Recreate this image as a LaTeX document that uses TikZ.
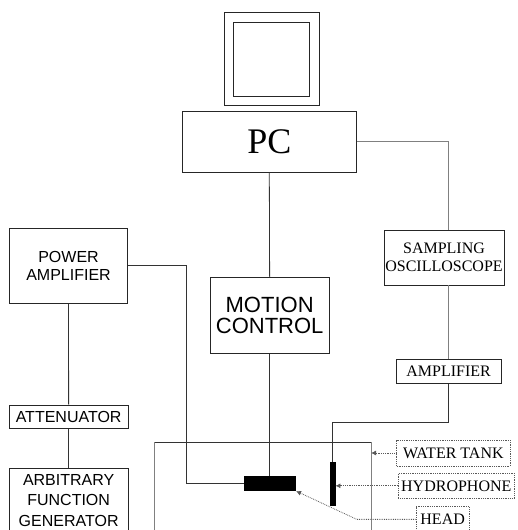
\documentclass[tikz,border=0pt]{standalone}
\usepackage{fontspec}
\setmainfont{Liberation Serif}
\newfontfamily\arialf{Liberation Sans}
\usetikzlibrary{arrows.meta,calc}
\begin{document}
\begin{tikzpicture}[x=1pt,y=-1pt,line width=0.8pt,
  box/.style={draw=black!85,inner sep=0pt,align=center},
  wire/.style={draw=black!80},
  graywire/.style={draw=black!50},
  lab/.style={draw=black!65,densely dotted,inner sep=0pt,font=\fontsize{16}{18}\selectfont},
  labarrow/.style={draw=black!65,densely dotted,-{Latex[length=5pt,width=5pt]}},
  solidblk/.style={fill=black,draw=black,inner sep=0pt}]
\useasboundingbox (0,0) rectangle (517,530);
% monitor
\node[box,minimum width=95.3,minimum height=92.6] (mon) at (271.65,59) {};
\node[box,minimum width=76,minimum height=74] (scr) at (271.3,59) {};
% boxes
\node[box,minimum width=174,minimum height=61,font=\fontsize{36}{38}\selectfont] (pc) at (269.3,141.8) {PC};
\node[box,minimum width=118.4,minimum height=75,font=\arialf\fontsize{16}{17.5}\selectfont] (pa) at (68.5,265.8) {POWER\\AMPLIFIER};
\node[box,minimum width=119.3,minimum height=75.6,font=\arialf\fontsize{22}{20.7}\selectfont] (mc) at (269.65,315.5) {MOTION\\CONTROL};
\node[box,minimum width=120,minimum height=55,font=\fontsize{16}{18.3}\selectfont] (so) at (444,257.5) {SAMPLING\\OSCILLOSCOPE};
\node[box,minimum width=105,minimum height=24,font=\fontsize{16}{18}\selectfont] (amp) at (448.65,371.3) {AMPLIFIER};
\node[box,minimum width=119.3,minimum height=23.3,font=\arialf\fontsize{16}{18}\selectfont] (att) at (68.65,416.65) {ATTENUATOR};
\node[box,minimum width=119.3,minimum height=64,font=\arialf\fontsize{16}{20.3}\selectfont] (afg) at (68.65,500.3) {ARBITRARY\\FUNCTION\\GENERATOR};
% water tank
\draw[wire] (154,442.3) -- (371,442.3);
\draw[graywire] (154,442.3) -- (154,545);
\draw[graywire] (371,442.3) -- (371,545);
\coordinate (tankR) at (371,452.7);
% head and hydrophone
\node[solidblk,minimum width=51.4,minimum height=14] (head) at (270,483.7) {};
\node[solidblk,minimum width=5,minimum height=42.3] (hyd) at (332.5,483.85) {};
% connectors
\draw[wire] (pc.south) -- (mc.north);
\draw[graywire] (pc.east) -| (amp.north |- so.north);
\draw[graywire] (amp.north |- so.south) -- (amp.north);
\coordinate (hb) at (332.5,422.7);
\draw[wire] (amp.south) |- (hb) -- (hyd.north);
\draw[wire] (mc.south) -- (mc.south |- head.north);
\coordinate (pab) at (186,483.7);
\draw[wire] (pa.east) -| (pab) -- (head.west);
\draw[wire] (pa.south) -- (att.north);
\draw[wire] (att.south) -- (afg.north);
% labels
\node[lab,minimum width=113.3,minimum height=26] (wt) at (453.35,453) {WATER TANK};
\node[lab,minimum width=116,minimum height=25] (hyl) at (456.3,485.8) {HYDROPHONE};
\node[lab,minimum width=53.3,minimum height=25.3] (hdl) at (442.65,519.35) {HEAD};
\draw[labarrow] (wt.west) -- (wt.west -| tankR);
\draw[labarrow] (hyl.west) -- (hyl.west -| hyd.east);
\coordinate (hk) at (356.7,519.35);
\draw[labarrow] (hdl.west) -- (hk) -- (head.south east);
\end{tikzpicture}
\end{document}
